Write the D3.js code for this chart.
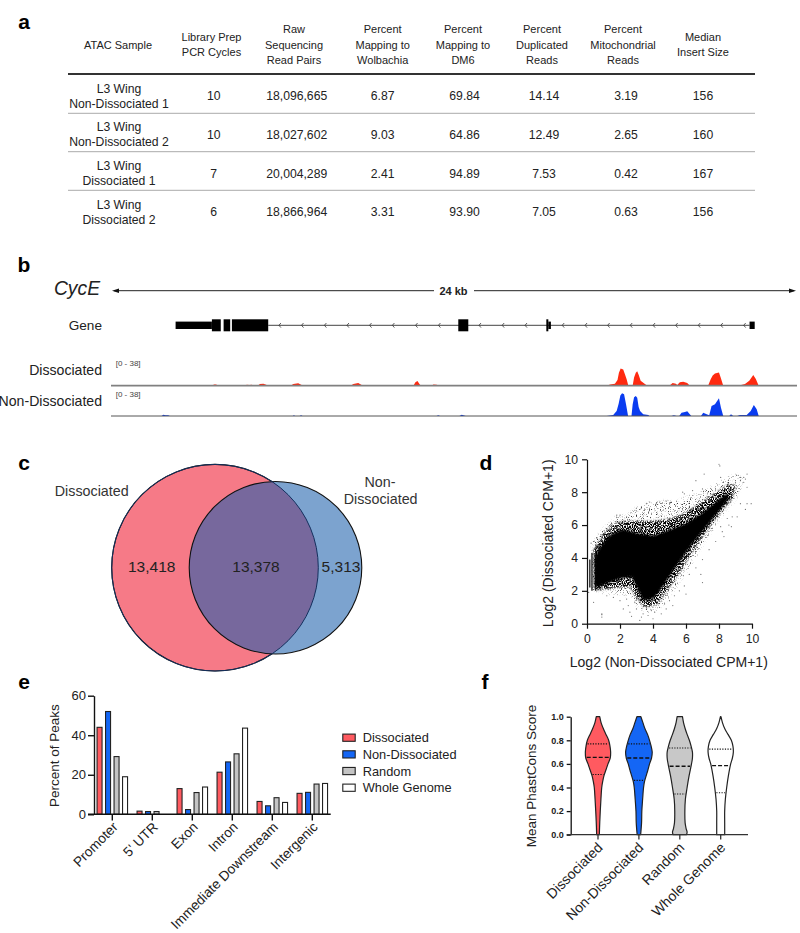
<!DOCTYPE html>
<html><head><meta charset="utf-8">
<script src="https://cdn.jsdelivr.net/npm/d3@7"></script>
<style>
html,body{margin:0;padding:0;background:#fff}
svg{display:block}
text{font-family:"Liberation Sans",Arial,sans-serif;fill:#222}
</style></head><body>
<svg id="c" width="800" height="933"></svg>
<script>
// ---------- panel a: table ----------
const tableHeaders = [
  ["ATAC Sample"],["Library Prep","PCR Cycles"],["Raw","Sequencing","Read Pairs"],
  ["Percent","Mapping to","Wolbachia"],["Percent","Mapping to","DM6"],["Percent","Duplicated","Reads"],
  ["Percent","Mitochondrial","Reads"],["Median","Insert Size"]];
const tableSamples = [["L3 Wing","Non-Dissociated 1"],["L3 Wing","Non-Dissociated 2"],["L3 Wing","Dissociated 1"],["L3 Wing","Dissociated 2"]];
const tableCycles = ["10","10","7","6"];
const tableReads = ["18,096,665","18,027,602","20,004,289","18,866,964"];
const tableWolbachia = ["6.87","9.03","2.41","3.31"];
const tableDm6 = ["69.84","64.86","94.89","93.90"];
const tableDup = ["14.14","12.49","7.53","7.05"];
const tableMito = ["3.19","2.65","0.42","0.63"];
const tableInsert = ["156","160","167","156"];

// ---------- panel b: tracks (kb, signal 0-38) ----------
const geneThin = [[2.26,3.53],[15.30,15.39],[22.34,22.52]];
const geneThick = [[3.53,3.84],[3.94,4.17],[4.23,5.50],[12.15,12.50],[15.23,15.30]];
const geneIntron = [5.50,22.34];
const geneChevrons = [5.91,6.70,7.50,8.29,9.08,9.88,10.69,11.49,12.91,13.72,14.52,15.82,16.62,17.41,18.20,19.0,19.79,20.58,21.37,22.17];
const trackDissociated = [
 [[1.75,0],[1.83,.8],[1.9,0]],
 [[3.55,0],[3.6,1.6],[3.68,1.6],[3.74,0]],[[3.93,0],[3.99,.8],[4.05,0]],[[4.4,0],[4.45,.8],[4.5,0]],
 [[4.68,0],[4.75,1.2],[4.84,1],[4.92,1.2],[5.02,0]],[[5.13,0],[5.21,2],[5.33,2.5],[5.45,.8],[5.5,0]],
 [[6.28,0],[6.38,2],[6.55,2.9],[6.67,.8],[6.72,0]],[[8.38,0],[8.48,2],[8.65,3.2],[8.77,.8],[8.82,0]],
 [[10.58,0],[10.65,4.1],[10.72,5.7],[10.81,1.2],[10.86,0]],[[11.22,0],[11.28,1.6],[11.39,1.2],[11.49,0]],
 [[12.19,0],[12.27,.8],[12.35,0]],[[13.96,0],[13.99,.8],[14.03,0]],
 [[17.34,0],[17.46,1.6],[17.63,2.4],[17.72,7],[17.77,16],[17.83,21.2],[17.92,20],[17.98,14],[18.04,8],[18.10,0]],
 [[18.25,0],[18.30,10.2],[18.36,16],[18.41,17.6],[18.46,13.5],[18.53,6],[18.68,2],[18.76,0]],
 [[19.53,0],[19.65,3.3],[19.76,2.5],[19.81,.8],[19.90,4.1],[20.02,4.9],[20.16,3.3],[20.25,0]],
 [[20.63,0],[20.78,.8],[20.90,.8],[20.98,8],[21.05,12.5],[21.13,15.1],[21.27,16.3],[21.33,10],[21.42,0]],
 [[21.60,0],[21.71,.8],[21.77,0]],
 [[21.94,0],[22.18,2],[22.33,6.1],[22.47,13.1],[22.56,8.2],[22.66,0]]];
const trackNonDissociated = [
 [[1.77,0],[1.83,1.6],[1.91,.8],[2.0,.8],[2.06,0]],[[6.36,0],[6.4,.8],[6.44,0]],[[6.6,0],[6.65,.8],[6.7,0]],
 [[11.39,0],[11.45,.8],[11.51,0]],[[12.19,0],[12.27,1.6],[12.41,0]],
 [[17.34,0],[17.57,1.2],[17.69,6.1],[17.76,15],[17.82,25],[17.88,27.8],[17.95,26.6],[18.02,14],[18.09,0]],
 [[18.21,0],[18.25,14],[18.30,23],[18.36,24.5],[18.41,22.5],[18.46,11],[18.51,6.1],[18.62,2],[18.80,1.2],[18.83,0]],
 [[19.61,0],[19.69,.8],[19.79,0]],[[19.88,0],[19.96,4.1],[20.08,4.9],[20.16,5.7],[20.28,.8],[20.30,0]],
 [[20.64,0],[20.72,4.1],[20.84,2],[20.93,.8],[21.01,12.3],[21.13,14.3],[21.27,21.7],[21.34,10.2],[21.42,0]],
 [[21.63,0],[21.69,2],[21.77,0]],[[21.91,0],[22.0,1.2],[22.24,1.2],[22.38,6.1],[22.49,13.5],[22.59,8.2],[22.66,0]]];

// ---------- panel c: Venn ----------
const vennCounts = [13418,13378,5313];
const vennLabels = ["13,418","13,378","5,313"];

// ---------- panel d: scatter, read as density outlines + visible stray points ----------
const cloudCore = [[.45,4.0],[.7,4.5],[1.17,5.15],[1.58,5.5],[2.2,5.75],[3,5.5],[4,5.35],[5,5.7],[6,6.1],[7,6.75],[7.8,7.4],[8.5,7.95],[8.6,7.6],[7.95,6.8],[7.15,5.8],[6.35,4.8],[5.55,3.7],[4.75,2.5],[4.05,1.55],[3.4,1.4],[3.05,2.15],[2.7,2.85],[2,2.75],[1.17,2.45],[.7,2.25],[.45,2.3]];
const cloudMid = [[.4,4.5],[.7,4.95],[1.1,5.6],[1.6,6.05],[2.2,6.25],[3,6.25],[4,6.25],[5,6.35],[5.8,6.65],[6.8,7.3],[7.7,7.9],[8.6,8.5],[9,8.4],[8.8,7.6],[8.2,6.9],[7.5,6],[6.8,5],[6.2,4.1],[5.6,3.1],[4.9,2.1],[4.3,1.2],[3.5,1.0],[3,1.6],[2.6,2.25],[1.8,2.2],[1,2.1],[.45,2.05]];
const cloudOuter = [[.3,4.9],[.6,5.3],[1,5.8],[1.5,6.3],[1.9,6.6],[2.4,6.6],[2.9,7],[3.5,7.3],[4,7.4],[4.7,7.5],[5.3,7.4],[5.8,7.6],[6.3,7.8],[6.8,8],[7.3,8.2],[7.9,8.6],[8.5,8.9],[9.1,9.1],[9.4,8.8],[9.3,8.2],[8.9,7.4],[8.4,6.8],[7.9,6.2],[7.4,5.4],[6.9,4.6],[6.4,3.8],[5.9,3],[5.3,2.1],[4.7,1.3],[4.2,.8],[3.6,.7],[3.1,1],[2.8,1.5],[2.2,1.8],[1.4,1.8],[.8,1.9],[.3,2]];
const scatterColumnsX = [.17,.3,.53,.73,.97];
const scatterColumnsLow = [2.2,2.0,2.0,2.2,2.3];
const scatterColumnsHigh = [3.9,4.3,4.5,4.8,5.0];
const scatterStray = [[8,9.7],[8.05,9.6],[7.1,9.1],[6.6,8.7],[8.1,8.9],[9.7,9.1],[9.6,8.8],[9,8.6],[9.3,8.7],[9.5,8.9],[9.5,8.6],[9.3,8.9],[9.7,8.3],[9.7,7.3],[9.95,7.3],[9.3,7.3],[9.6,6.95],[8.8,6.5],[8.5,6.4],[9.1,6.5],[8.3,5.3],[8.75,5.9],[8.1,5.9],[7.6,5.8],[7,2.5],[5.9,7.9],[5.8,8],[6.4,8.1],[7,8.2],[6.8,7.5],[7.3,7.9],[7.6,8.1],[6.2,7.1],[5.6,7.0],[5.1,7.4],[4.8,7.45],[4.4,7.4],[4.2,7.3],[3.8,7.4],[3.6,7.3],[3.3,7.1],[2.9,6.9],[2.4,6.5],[2,6.6],[1.8,6.6],[1.5,6.0],[1.1,5.5],[.85,5.4],[.6,5.2],[.4,5.0],[.25,4.9],
[3.2,.2],[3.3,.4],[3.4,.6],[3.7,.5],[4,.3],[4.1,.7],[4.4,1],[4.7,1.2],[5,1.4],[5.3,1.7],[5.6,2],[4.8,.9],[.9,.6],[.9,.55],[.9,.4],[2.2,.9],[2.5,1.1],[2.9,1.3],[3,.9],[2.6,.7],[2.7,.45],[2,1.4],[1.6,1.6],[1.2,1.7],[.4,1.3],[.1,1.9],[2.4,1.5],[3.6,.9],[3.9,.8],[4.5,.6],[5.9,2.3],[6.2,3],[6.6,3.4],[7,3.9],[7.4,4.5],[7.8,5],[8.2,5.6],[8.6,6],[6.9,3],[6,1.8],[5.2,1.1]];

// ---------- panel e: bars ----------
const barCategories = ["Promoter","5' UTR","Exon","Intron","Immediate Downstream","Intergenic"];
const barSeries = ["Dissociated","Non-Dissociated","Random","Whole Genome"];
const barDissociated = [44,1.6,13,21.3,6.5,10.6];
const barNonDissociated = [52,1.4,2.4,26.5,4.3,11.1];
const barRandom = [29.2,1.4,11,30.6,8.4,15.3];
const barWholeGenome = [19,0,13.8,43.6,6,15.6];
const seriesColors = ["#FF5A60","#1466F5","#C4C4C4","#FFFFFF"];

// ---------- panel f: violins ----------
const violinNames = ["Dissociated","Non-Dissociated","Random","Whole Genome"];
const violinDissociated = [[1,.13],[.95,.23],[.9,.4],[.85,.6],[.8,.8],[.75,.9],[.7,.95],[.65,.92],[.6,.75],[.55,.6],[.5,.45],[.45,.35],[.4,.28],[.3,.22],[.2,.17],[.1,.13],[0,.1]];
const violinNonDissociated = [[1,.15],[.95,.3],[.9,.45],[.85,.65],[.8,.8],[.75,.92],[.7,1],[.65,.95],[.6,.8],[.55,.68],[.5,.55],[.45,.42],[.4,.35],[.3,.28],[.2,.22],[.1,.2],[0,.13]];
const violinRandom = [[1,.2],[.95,.28],[.9,.4],[.85,.55],[.8,.72],[.75,.85],[.7,.95],[.65,.95],[.6,.88],[.5,.7],[.4,.55],[.3,.42],[.2,.38],[.1,.4],[.05,.48],[.02,.55],[0,.5]];
const violinWhole = [[1,.02],[.95,.13],[.9,.3],[.85,.55],[.8,.8],[.75,.92],[.7,.95],[.65,.88],[.6,.75],[.5,.58],[.4,.45],[.3,.35],[.2,.3],[.1,.3],[0,.3]];
const violinMedian = [.655,.65,.58,.585];
const violinQ1 = [.51,.46,.345,.355];
const violinQ3 = [.77,.77,.735,.725];
const violinColors = ["#FF5A60","#1466F5","#C8C8C8","#FFFFFF"];

const svg = d3.select("#c");
function txt(g,x,y,s,o={}){
  const t=g.append("text").attr("x",x).attr("y",y).attr("dy","0.35em").text(s)
    .attr("text-anchor",o.a||"middle").attr("font-size",o.s||12);
  if(o.w)t.attr("font-weight",o.w); if(o.i)t.attr("font-style","italic");
  if(o.c)t.style("fill",o.c); return t;
}
function rot(g,x,y,s,size,angle,anchor){
  return g.append("text").attr("transform",`translate(${x},${y}) rotate(${angle})`).attr("dy","0.35em")
    .attr("text-anchor",anchor||"middle").attr("font-size",size).text(s);
}
[["a",24,22],["b",24,265],["c",24,463],["d",486,463],["e",24,682],["f",485,682]].forEach(d=>
  txt(svg,d[1],d[2],d[0],{s:21,w:"bold",c:"#000"}));

// ===== a =====
const ta=svg.append("g");
const headX=[118,211.5,294,382.7,463,542,623,703];
const colX=[119,213.7,296.7,382.7,464.6,544,626,703];
const rowY=[96,134.7,173.3,212];
const lineGap=15;
tableHeaders.forEach((h,i)=>{
  h.forEach((l,j)=>txt(ta,headX[i],44.8+(j-(h.length-1)/2)*15.3,l,{s:11}));
});
ta.append("line").attr("x1",68).attr("x2",755).attr("y1",74).attr("y2",74).attr("stroke","#333").attr("stroke-width",2);
[113.3,151.7,190.3].forEach(y=>ta.append("line").attr("x1",68).attr("x2",755).attr("y1",y).attr("y2",y).attr("stroke","#aaa").attr("stroke-width",1));
tableSamples.forEach((s,r)=>{
  s.forEach((l,j)=>txt(ta,colX[0],rowY[r]+(j-.5)*lineGap,l,{s:12.2}));
  [tableCycles,tableReads,tableWolbachia,tableDm6,tableDup,tableMito,tableInsert].forEach((col,c)=>
    txt(ta,colX[c+1],rowY[r],col[r],{s:12.2}));
});

// ===== b =====
const tb=svg.append("g");
const kb=d3.scaleLinear().domain([0,24]).range([111,797]);
const defs=svg.append("defs");
txt(tb,100,288,"CycE",{s:19.3,i:true,a:"end"});
const sy=290.7;
tb.append("line").attr("x1",kb(0)+3).attr("x2",434).attr("y1",sy).attr("y2",sy).attr("stroke","#222").attr("stroke-width",1);
tb.append("line").attr("x1",474).attr("x2",kb(24)-3).attr("y1",sy).attr("y2",sy).attr("stroke","#222").attr("stroke-width",1);
tb.append("path").attr("d",`M${kb(0)+1},${sy}l7,-2.2v4.4z`).attr("fill","#111");
tb.append("path").attr("d",`M${kb(24)-1},${sy}l-7,-2.2v4.4z`).attr("fill","#111");
txt(tb,453.5,sy,"24 kb",{s:11,w:"bold"});
const gy=325.3;
txt(tb,102,gy,"Gene",{s:13.6,a:"end"});
tb.append("line").attr("x1",kb(geneIntron[0])).attr("x2",kb(geneIntron[1])).attr("y1",gy).attr("y2",gy).attr("stroke","#444").attr("stroke-width",1);
tb.selectAll(".chev").data(geneChevrons).join("path").attr("d",d=>`M${kb(d)+1},${gy-2.3}L${kb(d)-1},${gy}L${kb(d)+1},${gy+2.3}`).attr("fill","none").attr("stroke","#333").attr("stroke-width",.8);
tb.selectAll(".thin").data(geneThin).join("rect").attr("x",d=>kb(d[0])).attr("width",d=>kb(d[1])-kb(d[0])).attr("y",gy-3.7).attr("height",7.4).attr("fill","#000");
tb.selectAll(".thick").data(geneThick).join("rect").attr("x",d=>kb(d[0])).attr("width",d=>kb(d[1])-kb(d[0])).attr("y",gy-6).attr("height",12).attr("fill","#000");
function track(base,data,color,lbl,lblY,rangeY,lw,lc){
  const y=d3.scaleLinear().domain([0,38]).range([base,base-31]);
  const area=d3.area().x(d=>kb(d[0])).y0(base).y1(d=>y(d[1]));
  tb.selectAll(null).data(data).join("path").attr("d",area).attr("fill",color);
  tb.append("line").attr("x1",111).attr("x2",797).attr("y1",base).attr("y2",base).attr("stroke",lc).attr("stroke-width",lw);
  txt(tb,102,lblY,lbl,{s:14.1,a:"end"});
  txt(tb,115.7,rangeY,"[0 - 38]",{s:8,a:"start",c:"#444"});
}
track(385.7,trackDissociated,"#FF2A10","Dissociated",370,363.3,1.8,"#808080");
track(416,trackNonDissociated,"#0A3CF0","Non-Dissociated",400.7,394,1,"#555");

// ===== c =====
const tc=svg.append("g");
const vr=d3.scaleSqrt().domain([0,vennCounts[0]+vennCounts[1]]).range([0,103.3]);
const rA=vr(vennCounts[0]+vennCounts[1]), rB=vr(vennCounts[1]+vennCounts[2]);
const cy=567.7, cxA=215, cxB=275.5;
defs.append("clipPath").attr("id","clipA").append("circle").attr("cx",cxA).attr("cy",cy).attr("r",rA);
tc.append("circle").attr("cx",cxA).attr("cy",cy).attr("r",rA).attr("fill","#F67A87").attr("stroke","#111").attr("stroke-width",1.1);
tc.append("circle").attr("cx",cxB).attr("cy",cy).attr("r",rB).attr("fill","#7CA3CF");
tc.append("circle").attr("cx",cxB).attr("cy",cy).attr("r",rB).attr("fill","#77689D").attr("clip-path","url(#clipA)");
tc.append("circle").attr("cx",cxB).attr("cy",cy).attr("r",rB).attr("fill","none").attr("stroke","#111").attr("stroke-width",1.1);
tc.append("circle").attr("cx",cxA).attr("cy",cy).attr("r",rA).attr("fill","none").attr("stroke","#14305E").attr("stroke-width",1);
txt(tc,151.7,566.7,vennLabels[0],{s:15.5});
txt(tc,256,566.7,vennLabels[1],{s:15.5});
txt(tc,341,566.7,vennLabels[2],{s:15.5});
txt(tc,91.7,490.7,"Dissociated",{s:14.3,c:"#333"});
txt(tc,380,482,"Non-",{s:14.3,c:"#333"});
txt(tc,380.6,499,"Dissociated",{s:14.3,c:"#333"});

// ===== d =====
const td=svg.append("g");
const dx=d3.scaleLinear().domain([0,10]).range([587,752]);
const dy=d3.scaleLinear().domain([0,10]).range([623.7,459.3]);
function speck(id,freq,slope,inter,seed){
  const f=defs.append("filter").attr("id",id).attr("x","-5%").attr("y","-5%").attr("width","110%").attr("height","110%");
  f.append("feGaussianBlur").attr("in","SourceGraphic").attr("stdDeviation",1.2).attr("result","b");
  f.append("feTurbulence").attr("type","fractalNoise").attr("baseFrequency",freq).attr("numOctaves",2).attr("seed",seed).attr("result","n");
  f.append("feColorMatrix").attr("in","n").attr("type","matrix").attr("values",`0 0 0 0 0  0 0 0 0 0  0 0 0 0 0  ${slope} 0 0 0 ${inter}`).attr("result","s");
  f.append("feComposite").attr("in","b").attr("in2","s").attr("operator","in");
}
speck("spOut",.85,5,-2.85,4);
speck("spMid",.9,6,-2.4,9);
defs.append("filter").attr("id","soft").append("feGaussianBlur").attr("stdDeviation",.8);
const poly=d3.line().x(d=>dx(d[0])).y(d=>dy(d[1])).curve(d3.curveLinearClosed);
td.append("path").attr("d",poly(cloudOuter)).attr("fill","#333").attr("filter","url(#spOut)");
td.append("path").attr("d",poly(cloudMid)).attr("fill","#000").attr("filter","url(#spMid)");
td.append("path").attr("d",poly(cloudCore)).attr("fill","#000").attr("filter","url(#soft)");
td.selectAll(null).data(scatterColumnsX).join("line")
  .attr("x1",d=>dx(d)).attr("x2",d=>dx(d))
  .attr("y1",(d,i)=>dy(scatterColumnsLow[i])).attr("y2",(d,i)=>dy(scatterColumnsHigh[i]))
  .attr("stroke","#000").attr("stroke-width",1.5).attr("stroke-opacity",.8);
td.selectAll(null).data(scatterStray).join("circle").attr("cx",d=>dx(d[0])).attr("cy",d=>dy(d[1])).attr("r",.6).attr("fill","#333").attr("fill-opacity",.7);
function styleAxis(g,w,fs){g.selectAll("path,line").attr("stroke","#111").attr("stroke-width",w);g.selectAll("text").attr("font-size",fs).attr("font-family",'"Liberation Sans"').style("fill","#222");}
td.append("g").attr("transform","translate(0,623.7)").call(d3.axisBottom(dx).tickValues([0,2,4,6,8,10]).tickSize(5).tickSizeOuter(0).tickPadding(6)).call(g=>styleAxis(g,1.2,12.2));
td.append("g").attr("transform","translate(587,0)").call(d3.axisLeft(dy).tickValues([0,2,4,6,8,10]).tickSize(5).tickSizeOuter(0).tickPadding(4)).call(g=>styleAxis(g,1.2,12.2));
txt(td,668.8,661.7,"Log2 (Non-Dissociated CPM+1)",{s:14});
rot(td,547.7,543.3,"Log2 (Dissociated CPM+1)",14,-90);

// ===== e =====
const te=svg.append("g");
const ex=d3.scaleBand().domain(barCategories).range([92.3,332.3]);
const ey=d3.scaleLinear().domain([0,60]).range([814.3,695.7]);
const eInner=d3.scaleBand().domain(barSeries).range([-17,17]);
[barDissociated,barNonDissociated,barRandom,barWholeGenome].forEach((vals,s)=>{
  const rows=barCategories.map((c,i)=>({c,v:vals[i]})).filter(d=>d.v>0);
  te.selectAll(null).data(rows).join("rect")
    .attr("x",d=>ex(d.c)+ex.bandwidth()/2+eInner(barSeries[s])+eInner.bandwidth()/2-2.5)
    .attr("width",5).attr("y",d=>ey(d.v)).attr("height",d=>ey(0)-ey(d.v))
    .attr("fill",seriesColors[s]).attr("stroke","#222").attr("stroke-width",1.1);
});
te.append("g").attr("transform","translate(94,0)").call(d3.axisLeft(ey).tickValues([0,20,40,60]).tickSize(6).tickSizeOuter(0).tickPadding(2)).call(g=>styleAxis(g,1.4,13));
te.append("line").attr("x1",88).attr("x2",330.7).attr("y1",814.3).attr("y2",814.3).attr("stroke","#111").attr("stroke-width",1.4);
barCategories.forEach(c=>{
  const x=ex(c)+ex.bandwidth()/2;
  te.append("line").attr("x1",x).attr("x2",x).attr("y1",814.3).attr("y2",820.5).attr("stroke","#111").attr("stroke-width",1.4);
  rot(te,x+3,824.5,c,13.7,-45,"end");
});
rot(te,54.3,755.7,"Percent of Peaks",13.5,-90);
barSeries.forEach((s,i)=>{
  const y=737.7+i*16.67;
  te.append("rect").attr("x",342.8).attr("y",y-3.6).attr("width",12.4).attr("height",7.2).attr("fill",seriesColors[i]).attr("stroke","#222").attr("stroke-width",1.1);
  txt(te,362.7,y,s,{s:12.8,a:"start"});
});

// ===== f =====
const tf=svg.append("g");
const fx=d3.scalePoint().domain(violinNames).range([598,720.7]);
const fy=d3.scaleLinear().domain([0,1]).range([834.7,716.7]);
const fw=d3.scaleLinear().domain([0,1]).range([0,13.3]);
[violinDissociated,violinNonDissociated,violinRandom,violinWhole].forEach((v,i)=>{
  const cx=fx(violinNames[i]);
  const a=d3.area().y(d=>fy(d[0])).x0(d=>cx-fw(d[1])).x1(d=>cx+fw(d[1])).curve(d3.curveCatmullRom.alpha(.5));
  tf.append("path").attr("d",a(v)+`M${cx-fw(v[0][1])},${fy(1)}L${cx+fw(v[0][1])},${fy(1)}`).attr("fill",violinColors[i]).attr("stroke","#222").attr("stroke-width",1.2).attr("stroke-linejoin","round");
  const sorted=v.slice().reverse();
  const width=d3.scaleLinear().domain(sorted.map(d=>d[0])).range(sorted.map(d=>d[1]));
  [[violinMedian[i],"4,2",1.3],[violinQ1[i],"1.2,1.4",1.1],[violinQ3[i],"1.2,1.4",1.1]].forEach(q=>{
    const hw=fw(width(q[0]))-1;
    tf.append("line").attr("x1",cx-hw).attr("x2",cx+hw).attr("y1",fy(q[0])).attr("y2",fy(q[0])).attr("stroke","#111").attr("stroke-width",q[2]).attr("stroke-dasharray",q[1]);
  });
});
tf.append("g").attr("transform","translate(570.7,0)").call(d3.axisLeft(fy).tickValues([0,.2,.4,.6,.8,1]).tickFormat(d3.format(".1f")).tickSize(4).tickSizeOuter(0).tickPadding(3)).call(g=>{styleAxis(g,1.3,9);g.selectAll("text").attr("font-weight","bold");});
tf.append("line").attr("x1",566.7).attr("x2",748).attr("y1",834.7).attr("y2",834.7).attr("stroke","#333").attr("stroke-width",1.3);
violinNames.forEach(n=>{
  const x=fx(n);
  tf.append("line").attr("x1",x).attr("x2",x).attr("y1",834.7).attr("y2",839.5).attr("stroke","#333").attr("stroke-width",1.3);
  rot(tf,x+2,845,n,14,-45,"end");
});
rot(tf,531.7,776,"Mean PhastCons Score",13.5,-90);
</script>
</body></html>
